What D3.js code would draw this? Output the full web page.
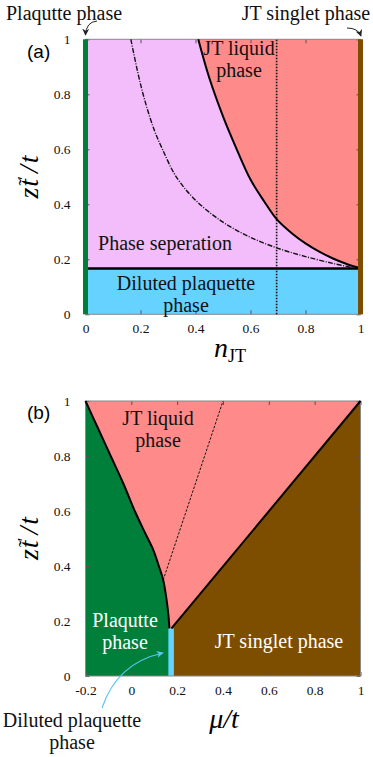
<!DOCTYPE html>
<html>
<head>
<meta charset="utf-8">
<script src="https://cdn.jsdelivr.net/npm/d3@7"></script>
<style>
  body { margin: 0; background: #fff; }
  svg text { font-family: "Liberation Serif", "Times New Roman", "DejaVu Serif", serif; }
</style>
</head>
<body>
<div id="chart"></div>
<script>
// ---- data ----
// panel (a): phase boundaries in (n_JT, z t'/t)
var liquidEdgeA = [[0.41,1],[0.45,0.86],[0.5,0.72],[0.55,0.6],[0.6,0.49],[0.65,0.41],[0.695,0.346],[0.75,0.295],[0.8,0.258],[0.85,0.228],[0.9,0.203],[0.95,0.183],[1,0.167]];
var spinodalA = [[0.165,1],[0.19,0.88],[0.215,0.78],[0.25,0.67],[0.28,0.6],[0.33,0.5],[0.4,0.415],[0.5,0.335],[0.6,0.28],[0.7,0.24],[0.8,0.21],[0.9,0.185],[0.97,0.17]];
var dilutedTopA = 0.167;
var cutA = 0.695;
// panel (b): phase boundaries in (mu/t, z t'/t)
var plaqEdgeB = [[-0.2,1],[-0.145,0.9],[-0.09,0.8],[-0.035,0.7],[0.015,0.6],[0.06,0.52],[0.096,0.458],[0.12,0.4],[0.139,0.349],[0.154,0.276],[0.162,0.22],[0.166,0.173]];
var singletEdgeB = [[0.175,0.173],[1,1]];
var cutB = [[0.139,0.349],[0.4,1]];
var dilutedB = {mu: 0.166, top: 0.173};
var xTicksA = [0,0.2,0.4,0.6,0.8,1];
var xTicksB = [-0.2,0,0.2,0.4,0.6,0.8,1];
var yTicks = [0,0.2,0.4,0.6,0.8,1];

var colPink = "#ff8a8a", colLav = "#f2bdfa", colBlue = "#66d2ff",
    colGreen = "#007f3b", colBrown = "#7d4e00";
var serif = "'Liberation Serif', 'Times New Roman', 'DejaVu Serif', serif";

var svg = d3.select("#chart").append("svg")
    .attr("width", 373).attr("height", 757);

var defs = svg.append("defs");
function marker(id, color) {
  defs.append("marker").attr("id", id)
    .attr("viewBox", "0 0 10 10").attr("refX", 9).attr("refY", 5)
    .attr("markerWidth", 7).attr("markerHeight", 7)
    .attr("markerUnits", "userSpaceOnUse").attr("orient", "auto")
    .append("path").attr("d", "M0,0 L10,5 L0,10 L3,5 z").attr("fill", color);
}
marker("arrBlack", "#222");
marker("arrBlue", "#5cc6f2");

var fmt = function(d) { return String(Math.round(d * 10) / 10); };

function frame(g, x, y, xt) {
  var r = x.range(), h = y.range();
  g.append("g").attr("transform", "translate(0," + h[0] + ")")
    .call(d3.axisBottom(x).tickValues(xt).tickSize(-4).tickPadding(9).tickFormat(fmt));
  g.append("g").attr("transform", "translate(0," + h[1] + ")")
    .call(d3.axisTop(x).tickValues(xt).tickSize(-4).tickFormat(""));
  g.append("g").attr("transform", "translate(" + r[0] + ",0)")
    .call(d3.axisLeft(y).tickValues(yTicks).tickSize(-4).tickPadding(15).tickFormat(fmt));
  g.append("g").attr("transform", "translate(" + r[1] + ",0)")
    .call(d3.axisRight(y).tickValues(yTicks).tickSize(-4).tickFormat(""));
  g.selectAll(".domain").remove();
  g.selectAll(".tick line").attr("stroke", "#555");
  g.selectAll(".tick text").attr("font-size", 13.5)
    .style("font-family", serif).attr("fill", "#111");
  g.append("rect").attr("x", r[0]).attr("y", h[1])
    .attr("width", r[1] - r[0]).attr("height", h[0] - h[1])
    .attr("fill", "none").attr("stroke", "#888").attr("stroke-width", 1);
}

function label(g, x, y, lines, size, color, gap) {
  var t = g.append("text").attr("text-anchor", "middle").style("font-family", serif)
    .attr("font-size", size).attr("fill", color || "#111");
  lines.forEach(function(s, i) {
    t.append("tspan").attr("x", x).attr("y", y + i * (gap || 21.5)).text(s);
  });
}

// z t~' / t, built glyph by glyph so every piece stays in the serif italic face
function yLabel(g, cx, cy) {
  var t = g.append("text").attr("transform", "translate(" + cx + "," + cy + ") rotate(-90)")
    .attr("text-anchor", "middle").attr("font-size", 28).attr("font-style", "italic")
    .style("font-family", serif);
  t.append("tspan").text("z");
  t.append("tspan").attr("dx", 1).text("t");
  t.append("tspan").attr("font-style", "normal").attr("font-size", 20)
    .attr("dx", -6.5).attr("dy", -5).text("\u02dc");
  t.append("tspan").attr("font-style", "normal").attr("font-size", 17)
    .attr("dx", -1).attr("dy", -4).text("\u2032");
  t.append("tspan").attr("dy", 9).attr("dx", 3).text("/");
  t.append("tspan").attr("dx", 2).text("t");
}

// ================= panel (a) =================
var xa = d3.scaleLinear().domain([0, 1]).range([85.5, 360.5]);
var ya = d3.scaleLinear().domain([0, 1]).range([314.3, 39.3]);
var ga = svg.append("g");
var lineA = d3.line().x(function(d) { return xa(d[0]); }).y(function(d) { return ya(d[1]); })
    .curve(d3.curveCatmullRom);

ga.append("rect").attr("x", xa(0)).attr("y", ya(1)).attr("width", xa(1) - xa(0))
  .attr("height", ya(dilutedTopA) - ya(1)).attr("fill", colLav);
ga.append("rect").attr("x", xa(0)).attr("y", ya(dilutedTopA)).attr("width", xa(1) - xa(0))
  .attr("height", ya(0) - ya(dilutedTopA)).attr("fill", colBlue);
ga.append("path").attr("d", lineA(liquidEdgeA) + "L" + xa(1) + "," + ya(1) + "Z").attr("fill", colPink);

frame(ga, xa, ya, xTicksA);

ga.append("path").attr("d", lineA(spinodalA)).attr("fill", "none")
  .attr("stroke", "#111").attr("stroke-width", 1.4).attr("stroke-dasharray", "5,1.5,1,1.5");
ga.append("line").attr("x1", xa(cutA)).attr("x2", xa(cutA)).attr("y1", ya(0)).attr("y2", ya(1))
  .attr("stroke", "#111").attr("stroke-width", 1.6).attr("stroke-dasharray", "1.6,1.4");
ga.append("path").attr("d", lineA(liquidEdgeA)).attr("fill", "none")
  .attr("stroke", "#000").attr("stroke-width", 2);
ga.append("line").attr("x1", xa(0)).attr("x2", xa(1)).attr("y1", ya(dilutedTopA)).attr("y2", ya(dilutedTopA))
  .attr("stroke", "#000").attr("stroke-width", 2.5);
ga.append("rect").attr("x", xa(0) - 2.5).attr("y", ya(1)).attr("width", 5)
  .attr("height", ya(0) - ya(1)).attr("fill", colGreen);
ga.append("rect").attr("x", xa(1) - 2.5).attr("y", ya(1)).attr("width", 5)
  .attr("height", ya(0) - ya(1)).attr("fill", colBrown);

label(ga, 239, 55, ["JT liquid", "phase"], 20);
label(ga, 165, 250, ["Phase seperation"], 20);
label(ga, 186, 290, ["Diluted plaquette", "phase"], 20);
label(ga, 64, 20, ["Plaqutte phase"], 20);
label(ga, 306, 20, ["JT singlet phase"], 20);
ga.append("path").attr("d", "M97,21 Q86,22 85.5,35").attr("fill", "none")
  .attr("stroke", "#222").attr("stroke-width", 1).attr("marker-end", "url(#arrBlack)");
ga.append("path").attr("d", "M347,28 Q358,28 361,36").attr("fill", "none")
  .attr("stroke", "#222").attr("stroke-width", 1).attr("marker-end", "url(#arrBlack)");
ga.append("text").attr("x", 27).attr("y", 58).attr("font-size", 19)
  .style("font-family", "'Liberation Sans', Arial, sans-serif").text("(a)");
yLabel(ga, 38, 177);
var xlA = ga.append("text").attr("x", 230).attr("y", 357).attr("text-anchor", "middle")
  .style("font-family", serif);
xlA.append("tspan").attr("font-size", 28).attr("font-style", "italic").text("n");
xlA.append("tspan").attr("font-size", 18).attr("dy", 5).text("JT");

// ================= panel (b) =================
var xb = d3.scaleLinear().domain([-0.2, 1]).range([85.5, 360.5]);
var yb = d3.scaleLinear().domain([0, 1]).range([676, 401]);
var gb = svg.append("g");
var lineB = d3.line().x(function(d) { return xb(d[0]); }).y(function(d) { return yb(d[1]); })
    .curve(d3.curveCatmullRom);
var polyB = d3.line().x(function(d) { return xb(d[0]); }).y(function(d) { return yb(d[1]); });

gb.append("rect").attr("x", xb(-0.2)).attr("y", yb(1)).attr("width", xb(1) - xb(-0.2))
  .attr("height", yb(0) - yb(1)).attr("fill", colPink);
gb.append("path").attr("d", lineB(plaqEdgeB) + "L" + xb(dilutedB.mu) + "," + yb(0) +
  "L" + xb(-0.2) + "," + yb(0) + "Z").attr("fill", colGreen);
gb.append("path").attr("d", polyB(singletEdgeB.concat([[1, 0], [singletEdgeB[0][0], 0]])) + "Z")
  .attr("fill", colBrown);
gb.append("rect").attr("x", xb(dilutedB.mu) - 1).attr("y", yb(dilutedB.top)).attr("width", 5.5)
  .attr("height", yb(0) - yb(dilutedB.top)).attr("fill", colBlue);

frame(gb, xb, yb, xTicksB);

gb.append("path").attr("d", polyB(cutB)).attr("fill", "none")
  .attr("stroke", "#111").attr("stroke-width", 1).attr("stroke-dasharray", "2.5,1.5");
gb.append("path").attr("d", lineB(plaqEdgeB)).attr("fill", "none")
  .attr("stroke", "#000").attr("stroke-width", 2);
gb.append("path").attr("d", polyB(singletEdgeB)).attr("fill", "none")
  .attr("stroke", "#000").attr("stroke-width", 2);

label(gb, 158, 425, ["JT liquid", "phase"], 20);
label(gb, 125, 627, ["Plaqutte", "phase"], 20, "#fff");
label(gb, 279, 648, ["JT singlet phase"], 20, "#fff");
label(gb, 72, 727, ["Diluted plaquette", "phase"], 20, "#111", 22);
gb.append("path").attr("d", "M102,708 Q117,663 163,653").attr("fill", "none")
  .attr("stroke", "#5cc6f2").attr("stroke-width", 1.2).attr("marker-end", "url(#arrBlue)");
gb.append("text").attr("x", 27).attr("y", 419).attr("font-size", 19)
  .style("font-family", "'Liberation Sans', Arial, sans-serif").text("(b)");
yLabel(gb, 38, 538.5);
gb.append("text").attr("x", 224).attr("y", 728).attr("text-anchor", "middle").style("font-family", serif)
  .attr("font-size", 28).attr("font-style", "italic").text("\u03bc/t");
</script>
</body>
</html>
